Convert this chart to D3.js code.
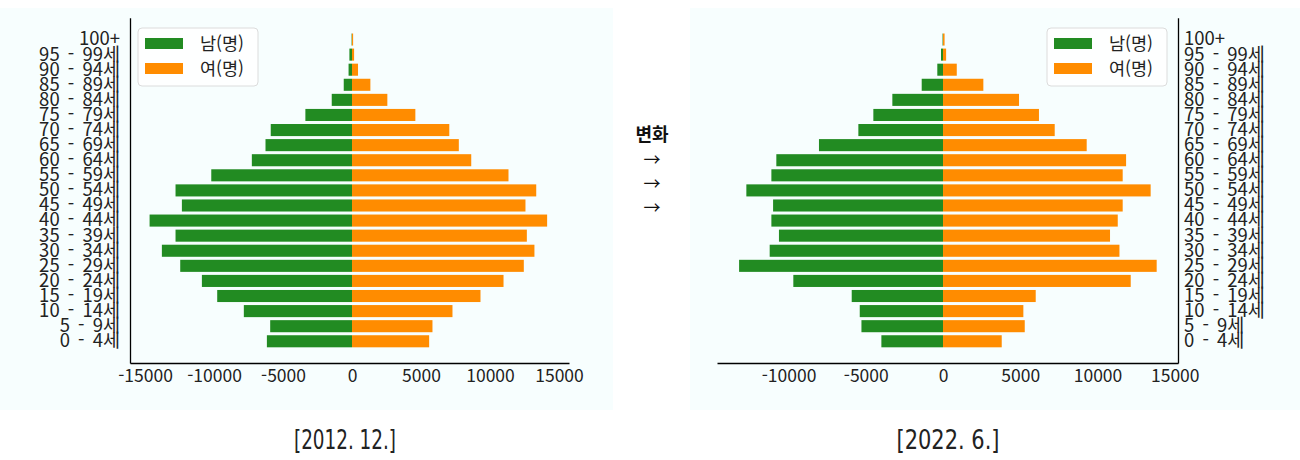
<!DOCTYPE html>
<html lang="ko">
<head>
<meta charset="UTF-8">
<title>인구 피라미드 변화</title>
<script src="https://d3js.org/d3.v7.min.js"></script>
<style>
    body, html {
        margin: 0;
        background: #ffffff;
        font-family: 'Noto Sans CJK KR', sans-serif;
    }
    svg { display: block; }
    .tick text { fill: #222; }
    .age text { word-spacing: 3px; }
    .caption {
        font-family: 'DejaVu Sans Condensed', 'Liberation Sans', sans-serif;
        font-size: 26px;
        fill: #222;
    }
</style>
</head>
<body>
<script>
    // age groups, bottom to top
    const ages = ["0 - 4세", "5 - 9세", "10 - 14세", "15 - 19세", "20 - 24세", "25 - 29세",
        "30 - 34세", "35 - 39세", "40 - 44세", "45 - 49세", "50 - 54세", "55 - 59세",
        "60 - 64세", "65 - 69세", "70 - 74세", "75 - 79세", "80 - 84세", "85 - 89세",
        "90 - 94세", "95 - 99세", "100+"];

    // 2012. 12.
    const male2012 = [6170, 5930, 7840, 9770, 10880, 12450, 13780, 12790, 14670, 12330, 12790,
        10200, 7260, 6270, 5890, 3380, 1470, 600, 250, 190, 30];
    const female2012 = [5590, 5830, 7280, 9310, 10980, 12450, 13220, 12670, 14140, 12570, 13350,
        11340, 8640, 7740, 7050, 4590, 2560, 1330, 435, 150, 80];

    // 2022. 6.
    const male2022 = [3990, 5280, 5390, 5910, 9690, 13200, 11220, 10620, 11110, 11000, 12730,
        11110, 10790, 8030, 5480, 4510, 3280, 1380, 370, 130, 30];
    const female2022 = [3800, 5290, 5200, 6000, 12150, 13830, 11420, 10810, 11310, 11630, 13440,
        11630, 11850, 9300, 7230, 6210, 4920, 2610, 890, 200, 100];

    const ticks = [-15000, -10000, -5000, 0, 5000, 10000, 15000];
    const ticks2022 = [-10000, -5000, 0, 5000, 10000, 15000];
    const seriesNames = ["남(명)", "여(명)"];
    const colors = ["#228b22", "#ff8c00"];
    const captions = ["[2012. 12.]", "[2022. 6.]"];
    const arrowTitle = "변화";

    const W = 1300, H = 460;
    const svg = d3.select("body").append("svg")
        .attr("width", W).attr("height", H);

    // panel backgrounds
    svg.append("rect").attr("x", 0).attr("y", 8).attr("width", 613).attr("height", 402).attr("fill", "#f7fefe");
    svg.append("rect").attr("x", 690).attr("y", 8).attr("width", 610).attr("height", 402).attr("fill", "#f7fefe");

    const y = d3.scaleBand()
        .domain(ages.slice().reverse())
        .range([17.8, 363])
        .paddingInner(0.2)
        .paddingOuter(1.04);

    function pyramid(opts) {
        const g = svg.append("g");
        const x = d3.scaleLinear().domain(opts.domain).range(opts.range);
        const rows = ages.map((a, i) => ({age: a, m: opts.male[i], f: opts.female[i]}));

        g.append("g").selectAll("rect")
            .data(rows)
            .join("rect")
            .attr("x", d => x(-d.m))
            .attr("y", d => y(d.age))
            .attr("width", d => x(0) - x(-d.m))
            .attr("height", y.bandwidth())
            .attr("fill", colors[0]);

        g.append("g").selectAll("rect")
            .data(rows)
            .join("rect")
            .attr("x", x(0))
            .attr("y", d => y(d.age))
            .attr("width", d => x(d.f) - x(0))
            .attr("height", y.bandwidth())
            .attr("fill", colors[1]);

        const xAxis = g.append("g")
            .attr("transform", `translate(0,363)`)
            .call(d3.axisBottom(x).tickValues(opts.ticks).tickFormat(d => String(d))
                .tickSize(0).tickSizeOuter(0).tickPadding(7));
        xAxis.select(".domain").attr("stroke", "#000").attr("stroke-width", 1.3);
        xAxis.selectAll("text").attr("font-size", 17.5).attr("font-family", "'Noto Sans CJK KR', sans-serif");

        const yAx = opts.side === "left"
            ? d3.axisLeft(y).tickSize(0).tickSizeOuter(0).tickPadding(10)
            : d3.axisRight(y).tickSize(0).tickSizeOuter(0).tickPadding(6);
        const yAxis = g.append("g")
            .attr("class", "age")
            .attr("transform", `translate(${opts.spine},0)`)
            .call(yAx);
        yAxis.select(".domain").attr("stroke", "#000").attr("stroke-width", 1.3);
        yAxis.selectAll("text").attr("font-size", 18.5).attr("font-family", "'Noto Sans CJK KR', sans-serif");

        // legend
        const lg = g.append("g").attr("transform", `translate(${opts.legendX},28)`);
        lg.append("rect").attr("width", 120).attr("height", 58).attr("rx", 4)
            .attr("fill", "#ffffff").attr("fill-opacity", 0.8)
            .attr("stroke", "#dcdcdc").attr("stroke-width", 1);
        seriesNames.forEach((s, i) => {
            lg.append("rect").attr("x", 7).attr("y", 10 + i * 25)
                .attr("width", 38).attr("height", 11).attr("fill", colors[i]);
            lg.append("text").attr("x", 62).attr("y", 16 + i * 25)
                .attr("dy", "0.35em").attr("font-size", 17.5).attr("fill", "#222")
                .text(s);
        });

        svg.append("text").attr("class", "caption")
            .attr("x", opts.captionX).attr("y", 440)
            .attr("text-anchor", "middle").attr("dy", "0.35em")
            .attr("textLength", opts.captionW).attr("lengthAdjust", "spacingAndGlyphs")
            .text(opts.caption);
    }

    pyramid({
        male: male2012, female: female2012,
        domain: [-16090, 15725], range: [130, 569],
        ticks: ticks, side: "left", spine: 130,
        legendX: 138, captionX: 345, captionW: 102, caption: captions[0]
    });

    pyramid({
        male: male2022, female: female2022,
        domain: [-14630, 15210], range: [717, 1178],
        ticks: ticks2022, side: "right", spine: 1178,
        legendX: 1047, captionX: 948, captionW: 103, caption: captions[1]
    });

    // middle note
    svg.append("text").attr("x", 652).attr("y", 134.5).attr("dy", "0.35em")
        .attr("text-anchor", "middle").attr("font-size", 18).attr("font-weight", "bold")
        .attr("fill", "#111").text(arrowTitle);
    [160, 184, 208].forEach(yy => {
        svg.append("text").attr("x", 652).attr("y", yy).attr("dy", "0.35em")
            .attr("text-anchor", "middle").attr("font-size", 17).attr("fill", "#111")
            .text("→");
    });
</script>
</body>
</html>
